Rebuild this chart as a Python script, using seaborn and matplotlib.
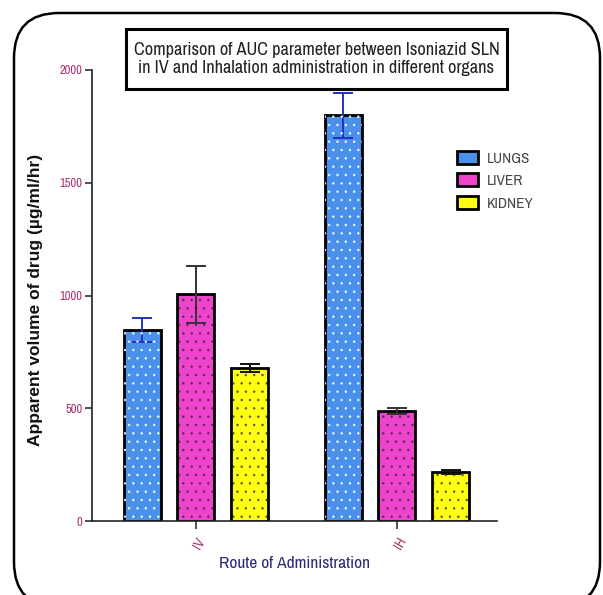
import matplotlib
matplotlib.use("Agg")
import matplotlib.pyplot as plt
from matplotlib import font_manager
from matplotlib.patches import FancyBboxPatch, Rectangle
import seaborn as sns
import pandas as pd
import numpy as np

routes = ["IV", "IH"]
organs = ["LUNGS", "LIVER", "KIDNEY"]
auc_iv = [848, 1005, 680]
auc_ih = [1800, 488, 217]
err_iv = [52, 128, 18]
err_ih = [100, 14, 8]

bar_colors = ["#4a90ea", "#ee44cc", "#ffff14"]
dot_colors = [(1, 1, 1, 0.8), (0.1, 0.1, 0.1, 0.55), (0.1, 0.1, 0.1, 0.6)]
err_colors = ["#2233bb", "#333333", "#111111"]

rows = []
for r, vals in zip(routes, [auc_iv, auc_ih]):
    for o, v in zip(organs, vals):
        rows.append({"route": r, "organ": o, "auc": v})
df = pd.DataFrame(rows)
errs = {"IV": err_iv, "IH": err_ih}

sns.set_theme(style="white")

# prefer a condensed sans face when one is installed
names = sorted({f.name for f in font_manager.fontManager.ttflist})
condensed = [n for n in names if "Narrow" in n or "Condensed" in n]
narrow = condensed[:1] + ["Liberation Sans", "DejaVu Sans"]
plt.rcParams["font.family"] = narrow
plt.rcParams["hatch.linewidth"] = 0.6

fig = plt.figure(figsize=(6.03, 5.95), dpi=100)
ax = fig.add_axes([92 / 603, 1 - 521 / 595, 405 / 603, 451 / 595])

sns.barplot(data=df, x="route", y="auc", hue="organ", order=routes,
            hue_order=organs, palette=bar_colors, width=0.8, gap=0.31,
            edgecolor="black", linewidth=2.0, errorbar=None, ax=ax,
            saturation=1)

# dotted fill pattern and error bars for each organ
bar_groups = list(ax.containers)
for i, cont in enumerate(bar_groups):
    for j, p in enumerate(cont.patches):
        x0, y0 = p.get_x(), p.get_y()
        w, h = p.get_width(), p.get_height()
        ax.add_patch(Rectangle((x0, y0), w, h, fill=False, hatch="..",
                               edgecolor=dot_colors[i], linewidth=0,
                               zorder=p.get_zorder() + 0.1))
        ax.errorbar(x0 + w / 2, h, yerr=errs[routes[j]][i], color=err_colors[i],
                    capsize=7, elinewidth=1.4, capthick=1.4, zorder=1)

ax.set_xlim(-0.517, 1.4975)
ax.set_ylim(0, 2000)
ax.set_yticks([0, 500, 1000, 1500, 2000])
for s in ["top", "right"]:
    ax.spines[s].set_visible(False)
for s in ["left", "bottom"]:
    ax.spines[s].set_color("#222222")
    ax.spines[s].set_linewidth(1.2)

ax.tick_params(axis="y", length=5, width=1.1, color="#222222", labelsize=9,
               labelcolor="#a8306e", left=True, pad=2)
ax.tick_params(axis="x", length=6, width=1.1, color="#222222", labelsize=10,
               labelcolor="#a8306e", bottom=True, pad=4)
plt.setp(ax.get_xticklabels(), rotation=60, ha="right", va="top",
         rotation_mode="anchor")

ax.set_xlabel("Route of Administration", fontsize=12.5, color="#2a2a78", labelpad=3)
ax.set_ylabel("")
fig.text(36 / 603, 1 - 300 / 595, "Apparent volume of drug (\u00b5g/ml/hr)",
         rotation=90, ha="center", va="center", fontsize=12.5, fontweight="bold",
         color="#111111", family=["Liberation Sans", "DejaVu Sans"])

leg = ax.get_legend()
if leg is not None:
    leg.remove()
handles, labels = ax.get_legend_handles_labels()
lg = fig.legend(handles, labels, loc="upper left",
                bbox_to_anchor=(443 / 603, 1 - 137 / 595), frameon=False,
                fontsize=11, handlelength=1.4, handleheight=0.95,
                labelspacing=0.5, handletextpad=0.6)
for t in lg.get_texts():
    t.set_color("#444444")

# boxed chart title
fig.patches.append(Rectangle((126 / 603, 1 - 89 / 595), 381 / 603, 60 / 595,
                             transform=fig.transFigure, facecolor="white",
                             edgecolor="black", linewidth=2.2))
fig.text(316.5 / 603, 1 - 59 / 595,
         "Comparison of AUC parameter between Isoniazid SLN\nin IV and Inhalation administration in different organs",
         ha="center", va="center", fontsize=13.2, color="#222222", linespacing=1.1)

frame = FancyBboxPatch((0.14, -0.12), 5.86, 5.94,
                       boxstyle="round,pad=0,rounding_size=0.45",
                       transform=fig.dpi_scale_trans, fill=False,
                       edgecolor="black", linewidth=1.8, clip_on=False)
fig.patches.append(frame)

fig.savefig("out.png", dpi=100)
